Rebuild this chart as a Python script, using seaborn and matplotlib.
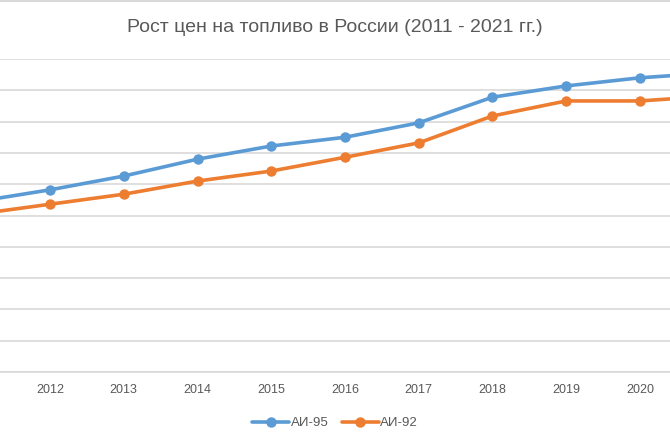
import pandas as pd
import matplotlib
matplotlib.use('Agg')
import matplotlib.pyplot as plt
from matplotlib.lines import Line2D
import seaborn as sns

# data (rubles per litre, estimated)
years = [2011, 2012, 2013, 2014, 2015, 2016, 2017, 2018, 2019, 2020, 2021]
ai95 = [27.2, 29.1, 31.3, 34.0, 36.1, 37.5, 39.8, 43.9, 45.7, 47.0, 47.8]
ai92 = [25.2, 26.8, 28.4, 30.5, 32.1, 34.3, 36.6, 40.9, 43.3, 43.3, 44.1]
series_names = ['АИ-95', 'АИ-92']
tick_years = [2012, 2013, 2014, 2015, 2016, 2017, 2018, 2019, 2020]
title = 'Рост цен на топливо в России (2011 - 2021 гг.)'

colors = ['#5B9BD5', '#ED7D31']
text_color = '#595959'
grid_color = '#D9D9D9'

df = pd.DataFrame({
    'year': years * 2,
    'price': ai95 + ai92,
    'fuel': [series_names[0]] * len(years) + [series_names[1]] * len(years),
})

sns.set_style('white')
plt.rcParams['font.family'] = ['Liberation Sans', 'DejaVu Sans']

fig = plt.figure(figsize=(6.7, 4.45), dpi=100)
ax = fig.add_axes([0, 1 - 372 / 445, 1, (372 - 59) / 445])

sns.lineplot(data=df, x='year', y='price', hue='fuel', hue_order=series_names,
             palette=colors, marker='o', markersize=7.5, markeredgewidth=0,
             linewidth=2.6, legend=False, ax=ax)

# the chart is cropped: 2011 and 2021 fall just outside the picture
ax.set_xlim(2012 - 50 / 73.75, 2012 + 620 / 73.75)
ax.set_ylim(0, 50)
ax.set_yticks(range(0, 51, 5))
ax.yaxis.grid(True, color=grid_color, linewidth=1.2)
ax.set_axisbelow(True)
ax.tick_params(axis='y', left=False, labelleft=False)
ax.set_xticks(tick_years)
ax.set_xticklabels([str(y) for y in tick_years])
ax.tick_params(axis='x', length=0, pad=8.5, labelsize=9, labelcolor=text_color)
ax.set_xlabel('')
ax.set_ylabel('')
for side in ['top', 'left', 'right']:
    ax.spines[side].set_visible(False)
ax.spines['bottom'].set_color(grid_color)
ax.spines['bottom'].set_linewidth(1.2)

fig.text(0.5, 1 - 27 / 445, title, ha='center', va='center',
         fontsize=14, color=text_color)

handles = [Line2D([], [], color=c, linewidth=2.6, marker='o', markersize=7.5,
                  markeredgewidth=0) for c in colors]
fig.legend(handles, series_names, loc='center', bbox_to_anchor=(0.5, 1 - 423 / 445),
           ncol=2, frameon=False, handlelength=2.8, handletextpad=0.1,
           columnspacing=1.0, prop={'size': 9.5}, labelcolor=text_color)

# thin chart border visible along the top edge
fig.add_artist(Line2D([0, 1], [0.998, 0.998], color=grid_color, linewidth=1.5))

fig.savefig('out.png', dpi=100)
